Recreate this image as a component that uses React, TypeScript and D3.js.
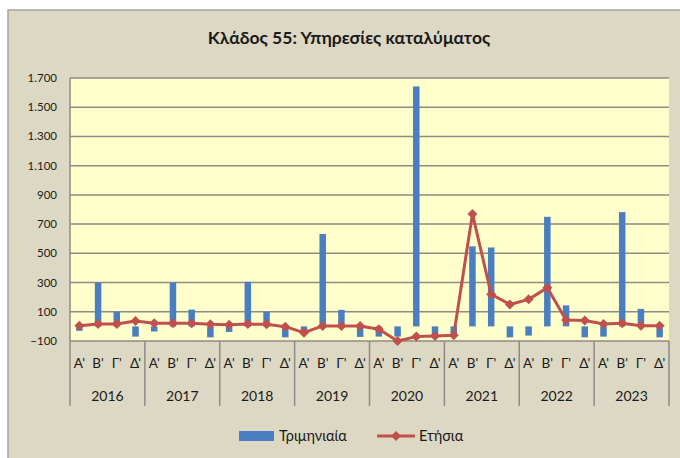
import React from "react";
import * as d3 from "d3";

const years = ["2016", "2017", "2018", "2019", "2020", "2021", "2022", "2023"];
const quarters = ["Α'", "Β'", "Γ'", "Δ'"];
const quarterly = [
  -30, 300, 100, -70,
  -35, 300, 115, -75,
  -38, 305, 100, -75,
  -35, 632, 113, -72,
  -70, -70, 1642, -70,
  -65, 548, 540, -75,
  -63, 750, 144, -75,
  -70, 782, 120, -75,
];
const annual = [
  5, 16, 16, 37,
  21, 21, 21, 14,
  12, 16, 14, -2,
  -43, 3, 3, 3,
  -20, -100, -70, -65,
  -60, 770, 220, 150,
  185, 265, 44, 40,
  16, 21, 5, 5,
];
const yTicks = [-100, 100, 300, 500, 700, 900, 1100, 1300, 1500, 1700];
const title = "Κλάδος 55: Υπηρεσίες καταλύματος";
const legendBar = "Τριμηνιαία";
const legendLine = "Ετήσια";

const W = 680;
const H = 458;
const plot = { left: 70, right: 669, top: 78, bottom: 341 };
const font = "Lato, 'Open Sans', sans-serif";

export default function App() {
  const cats = years.flatMap((y) => quarters.map((q) => `${y}-${q}`));
  const x = d3.scaleBand<string>().domain(cats).range([plot.left, plot.right]).paddingInner(0).paddingOuter(0);
  const y = d3.scaleLinear().domain([-100, 1700]).range([plot.bottom, plot.top]);
  const barW = 6.5;
  const bw = x.bandwidth();
  const cx = (i: number) => (x(cats[i]) as number) + bw / 2;
  const line = d3
    .line<number>()
    .x((_, i) => cx(i))
    .y((d) => y(d));
  const yearW = bw * 4;

  return (
    <svg
      width={W}
      height={H}
      style={{ position: "absolute", left: 0, top: 0 }}
      xmlns="http://www.w3.org/2000/svg"
    >
      <rect x={0} y={0} width={W} height={H} fill="#ffffff" />
      <rect x={8} y={10} width={W} height={H} fill="#DDD8C3" stroke="#A5A5A5" strokeWidth={1.5} />
      <text x={349} y={38} dy="0.35em" textAnchor="middle" fontFamily={font} fontWeight="bold" fontSize={17.5} fill="#1a1a1a">
        {title}
      </text>
      <rect
        x={plot.left}
        y={plot.top}
        width={plot.right - plot.left}
        height={plot.bottom - plot.top}
        fill="#FFFFCC"
      />
      {yTicks.map((t) => (
        <g key={t}>
          <line x1={plot.left} x2={plot.right} y1={y(t)} y2={y(t)} stroke="#8E8A86" strokeWidth={1.5} />
          <text
            x={57}
            y={y(t)}
            dy="0.35em"
            textAnchor="end"
            fontFamily={font}
            fontSize={11.5}
            fill="#1a1a1a"
          >
            {d3.format(",")(t).replace(/,/g, ".")}
          </text>
        </g>
      ))}
      <line x1={plot.left} x2={plot.left} y1={plot.top} y2={plot.bottom} stroke="#8E8A86" strokeWidth={1.5} />
      {quarterly.map((v, i) => (
        <rect
          key={i}
          x={cx(i) - barW / 2}
          y={Math.min(y(v), y(0))}
          width={barW}
          height={Math.abs(y(v) - y(0))}
          fill="#4A7EC2"
        />
      ))}
      <path d={line(annual) || ""} fill="none" stroke="#C0504D" strokeWidth={3} strokeLinejoin="round" />
      {annual.map((v, i) => (
        <path
          key={i}
          d={`M${cx(i)},${y(v) - 5} L${cx(i) + 5},${y(v)} L${cx(i)},${y(v) + 5} L${cx(i) - 5},${y(v)} Z`}
          fill="#C0504D"
        />
      ))}
      {/* category axis */}
      {d3.range(years.length + 1).map((k) => (
        <line
          key={k}
          x1={plot.left + k * yearW}
          x2={plot.left + k * yearW}
          y1={plot.bottom}
          y2={406}
          stroke="#8E8A86"
          strokeWidth={1.5}
        />
      ))}
      {cats.map((c, i) => (
        <text
          key={c}
          x={cx(i)}
          y={363}
          dy="0.35em"
          textAnchor="middle"
          fontFamily={font}
          fontSize={13.5}
          fill="#1a1a1a"
        >
          {quarters[i % 4]}
        </text>
      ))}
      {years.map((yr, k) => (
        <text
          key={yr}
          x={plot.left + (k + 0.5) * yearW}
          y={396}
          dy="0.35em"
          textAnchor="middle"
          fontFamily={font}
          fontSize={14}
          fill="#1a1a1a"
        >
          {yr}
        </text>
      ))}
      {/* legend */}
      <rect x={239} y={431} width={35} height={10} fill="#4A7EC2" />
      <text x={279} y={436} dy="0.35em" fontFamily={font} fontSize={14.5} fill="#1a1a1a">
        {legendBar}
      </text>
      <line x1={377} x2={415} y1={436} y2={436} stroke="#C0504D" strokeWidth={3} />
      <path d="M396,431 L401,436 L396,441 L391,436 Z" fill="#C0504D" />
      <text x={419} y={436} dy="0.35em" fontFamily={font} fontSize={14.5} fill="#1a1a1a">
        {legendLine}
      </text>
    </svg>
  );
}
